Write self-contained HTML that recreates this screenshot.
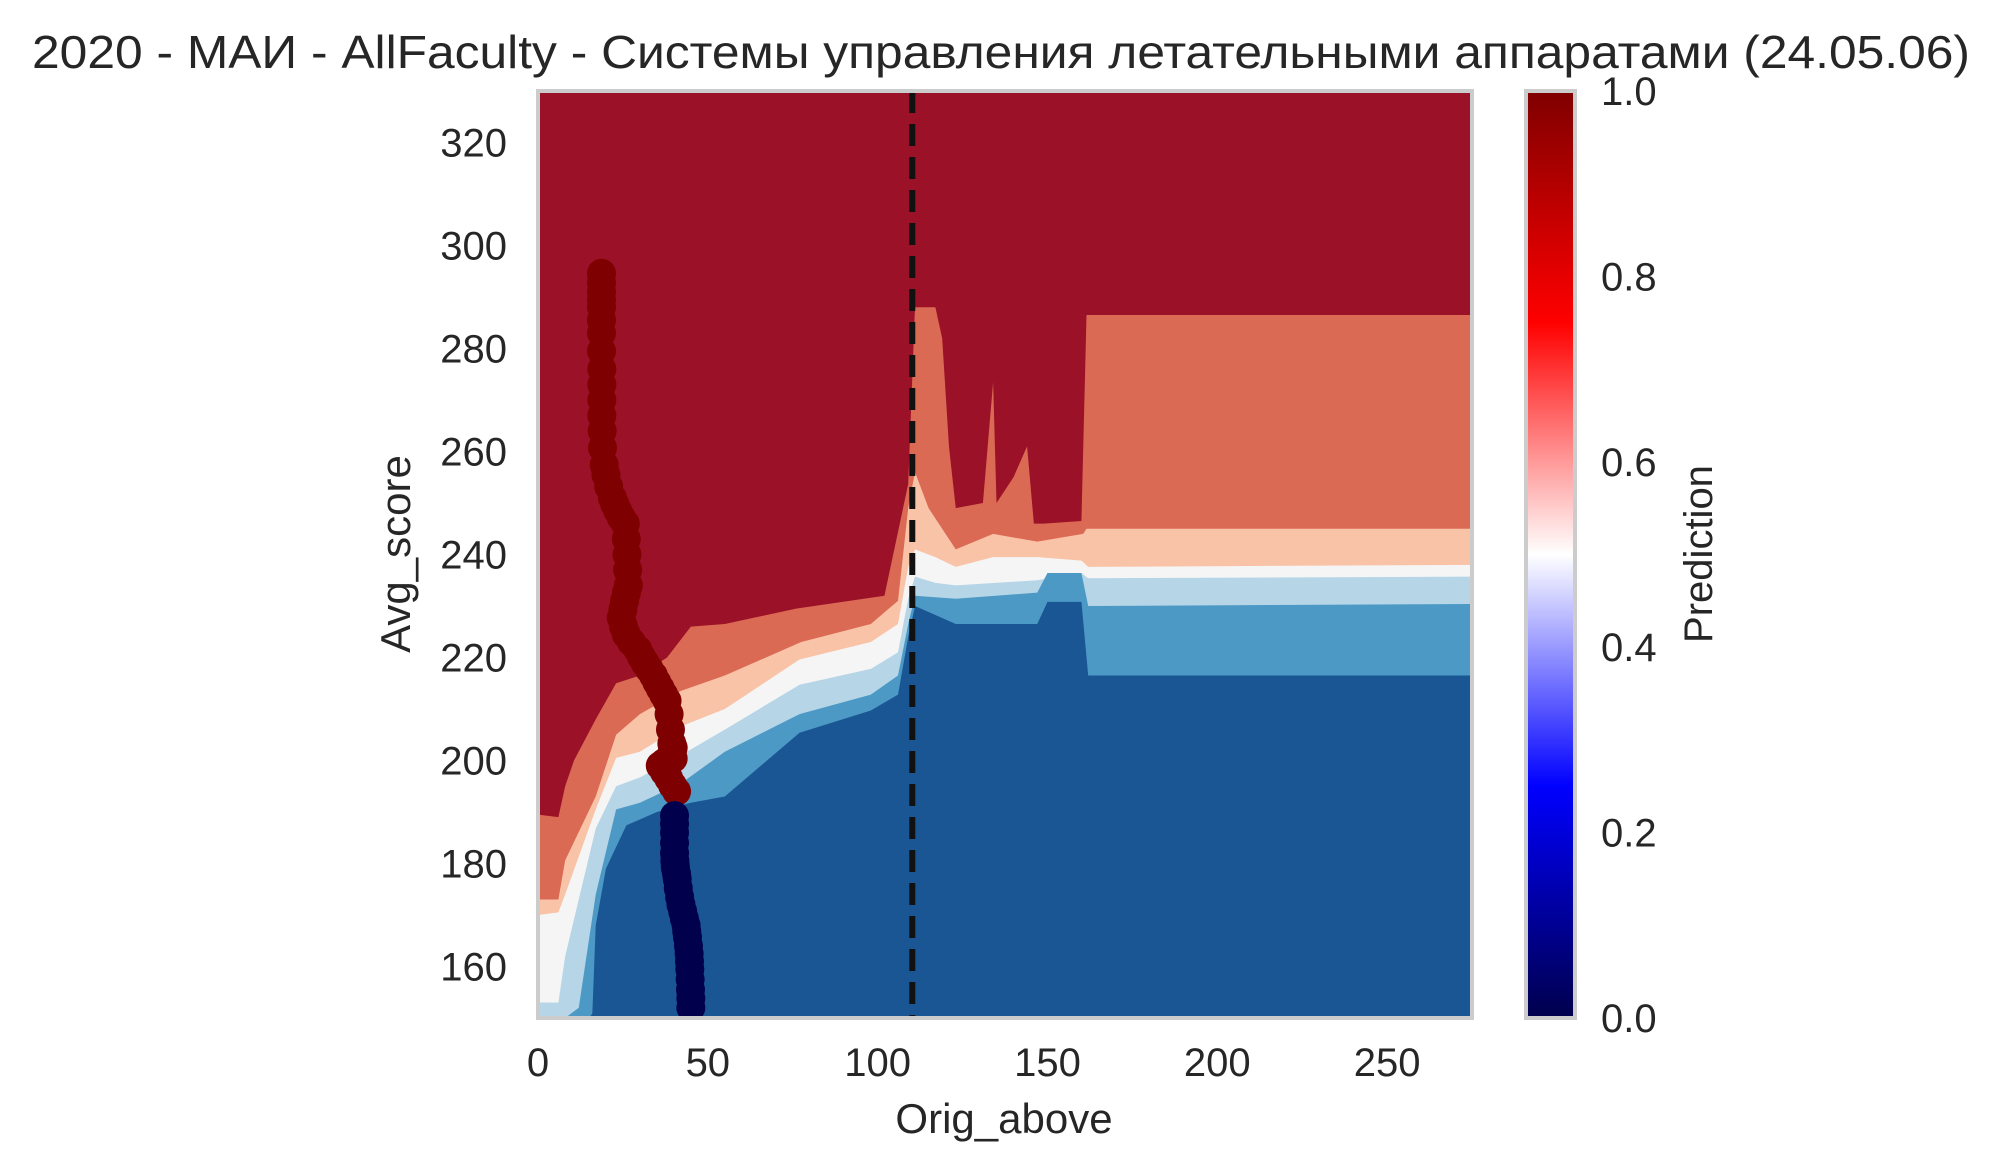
<!DOCTYPE html>
<html><head><meta charset="utf-8"><style>
body{margin:0;background:#fff}
svg{display:block}
text{font-family:"Liberation Sans",Arial,sans-serif;fill:#262626}
</style></head><body>
<svg id="chart" width="2006" height="1173" viewBox="0 0 2006 1173" xmlns="http://www.w3.org/2000/svg">
<defs>
<linearGradient id="seis" x1="0" y1="1" x2="0" y2="0">
<stop offset="0" stop-color="#00004c"/><stop offset="0.25" stop-color="#0000ff"/><stop offset="0.5" stop-color="#ffffff"/><stop offset="0.75" stop-color="#ff0000"/><stop offset="1" stop-color="#7f0000"/>
</linearGradient>
<clipPath id="pc"><rect x="538" y="91" width="934" height="927"/></clipPath>
</defs>
<text x="32" y="68" font-size="46" textLength="1938" lengthAdjust="spacingAndGlyphs">2020 - МАИ - AllFaculty - Системы управления летательными аппаратами (24.05.06)</text>
<g id="plot" clip-path="url(#pc)"></g>
<g id="marks" clip-path="url(#pc)"></g>
<rect x="538" y="91" width="934" height="927" fill="none" stroke="#cccccc" stroke-width="4"/>
<g id="axes"></g>
<text x="1004" y="1133" font-size="42" text-anchor="middle">Orig_above</text>
<text transform="translate(410,554) rotate(-90)" font-size="42" text-anchor="middle">Avg_score</text>
<rect x="1526" y="91" width="49" height="927" fill="url(#seis)" stroke="#cccccc" stroke-width="4"/>
<g id="cbticks"></g>
<text transform="translate(1712,554) rotate(-90)" font-size="40" text-anchor="middle">Prediction</text>
</svg>
<script>
const xTicks=[0,50,100,150,200,250];
const yTicks=[160,180,200,220,240,260,280,300,320];
const cbTicks=["0.0","0.2","0.4","0.6","0.8","1.0"];
const bandColors=["#db6a55","#f9c3a8","#f5f5f5","#b6d5e7","#4c99c6","#1a5694"];
const b1=[[0,189.5],[6,189],[8,195],[10.6,200],[17,208],[23,215],[30,216.5],[38,220],[45,226],[55,226.5],[76,229.5],[102,232],[109,253.7],[111,288],[117,288],[119,282],[121,261],[123,249],[131,250],[134,273.5],[135,250],[140,255],[144,261],[146,246],[149,246],[160,246.5],[161.5,286.5],[276,286.5]];
const b2=[[0,173],[6,173],[8,180.6],[17,193],[23,205],[30,209],[42,213.5],[55,216.5],[77.5,223],[98,226.5],[106,231],[109,249],[111,256],[115,249],[123,241],[134,244],[147,242.5],[160.5,244],[161.5,245],[276,245]];
const b3=[[0,170],[6,170.5],[8,174],[17,190.5],[23,200.5],[30,201.7],[42,206.6],[55,210],[77,219.6],[98,223],[106,226.5],[109,237.6],[111,241],[117,239.5],[123,237.6],[134,239.5],[147,239.5],[160,238.8],[162,237.6],[276,238]];
const b4=[[0,153],[6,153],[8,162],[17,186.8],[23,195],[30,196.7],[42,201],[55,206],[77,214.7],[98,217.8],[106,221],[109,231.4],[111,235.7],[117,234.5],[123,234],[147,235],[160,236.4],[162,235.4],[276,235.7]];
const b5=[[0,149],[8,150],[12,152],[17,174],[23,190.5],[30,191.8],[42,195.5],[55,201.7],[77,209],[98,212.8],[106,216.5],[109,226.5],[111,232],[123,231.4],[147,232.6],[150,236.4],[160,236.4],[162,230],[276,230.4]];
const b6=[[0,149],[14,149],[16,150.9],[17,168],[20,179],[26,187.4],[35,190],[45,191.8],[55,193],[77,205.4],[98,209.7],[106,212.8],[109,224],[111,230],[123,226.5],[147,226.5],[150,230.8],[160,230.8],[162,216.5],[276,216.5]];
const redX=[18.7,18.7,18.7,18.7,18.7,18.7,18.7,18.7,18.8,18.8,18.8,18.8,18.9,19,19.5,20,20.8,21.9,22.6,23.5,24.5,25.7,26,26.2,26.4,26.6,26,25.5,25,24.5,25.2,26,27.5,29.4,30.4,31.5,32.7,34,35,36,37,38,38.6,39,39.4,39.6,39.8,39.8,38,37,36,37.2,38.5,39.6,40.8];
const redY=[294.6,292.8,291,289.5,288,285.5,283,279.5,276,273,270,267,264,260.7,257.4,255.5,253.2,251,249.8,248.5,247.2,246,243,240,237,234,232.5,231,229.3,227.7,226,224.5,223,221.5,220.2,219,217.8,216.5,215.2,214,212.8,211.6,209,206,203.3,202,200.4,202.5,200,199.5,199,197.8,196.5,195.2,194];
const navyX=[40.2,40.2,40.2,40.2,40.2,40.3,40.4,40.5,40.8,41,41.3,41.7,42.1,42.6,43.1,43.6,43.8,44,44.3,44.5,44.6,44.7,44.8,44.9,45,45];
const navyY=[189.3,187.7,186,184,182,180.5,179.6,179,178,177,175.2,173.5,172,170.7,169.3,168,166.8,165.7,164,162.5,161,159.5,157.5,155.5,153.8,152];
const dashX=110.2;
const X0=538,X1=1472,Y0=1018,Y1=91,XMIN=0,XMAX=275,YMIN=150,YMAX=330;
const sx=v=>X0+(v-XMIN)/(XMAX-XMIN)*(X1-X0);
const sy=v=>Y0-(v-YMIN)/(YMAX-YMIN)*(Y0-Y1);
const NS='http://www.w3.org/2000/svg';
function mk(tag,attrs,parent){const e=document.createElementNS(NS,tag);for(const k in attrs)e.setAttribute(k,attrs[k]);parent.appendChild(e);return e;}
const plot=document.getElementById('plot');
const bg=mk('rect',{x:X0,y:Y1,width:X1-X0,height:Y0-Y1,fill:'#9b1127'},plot);


[b1,b2,b3,b4,b5,b6].forEach((b,i)=>{
  let d='M'+sx(b[0][0])+','+(Y0+10);
  b.forEach(p=>{d+=' L'+sx(p[0])+','+sy(p[1]);});
  d+=' L'+sx(b[b.length-1][0])+','+(Y0+10)+' Z';
  const p=mk('path',{d:d,fill:bandColors[i]},plot);
  
  
});
const marks=document.getElementById('marks');
const dl=mk('line',{x1:sx(dashX),x2:sx(dashX),y1:Y1,y2:Y0,stroke:'#111',"stroke-width":6,"stroke-dasharray":"22,11"},marks);


redX.forEach((x,i)=>{const c=mk('circle',{cx:sx(x),cy:sy(redY[i]),r:14.5,fill:'#7f0000'},marks);

});
navyX.forEach((x,i)=>{const c=mk('circle',{cx:sx(x),cy:sy(navyY[i]),r:14.5,fill:'#00004c'},marks);

});
const axes=document.getElementById('axes');
xTicks.forEach(v=>{const t=mk('text',{x:sx(v),y:1076,"font-size":40,"text-anchor":"middle"},axes);t.textContent=v;

});
yTicks.forEach(v=>{const t=mk('text',{x:507,y:sy(v)+14,"font-size":40,"text-anchor":"end"},axes);t.textContent=v;

});
const cb=document.getElementById('cbticks');
cbTicks.forEach((v,i)=>{const y=1018-i/5*927;const t=mk('text',{x:1601,y:y+14,"font-size":40},cb);t.textContent=v;

});
</script>
</body></html>
